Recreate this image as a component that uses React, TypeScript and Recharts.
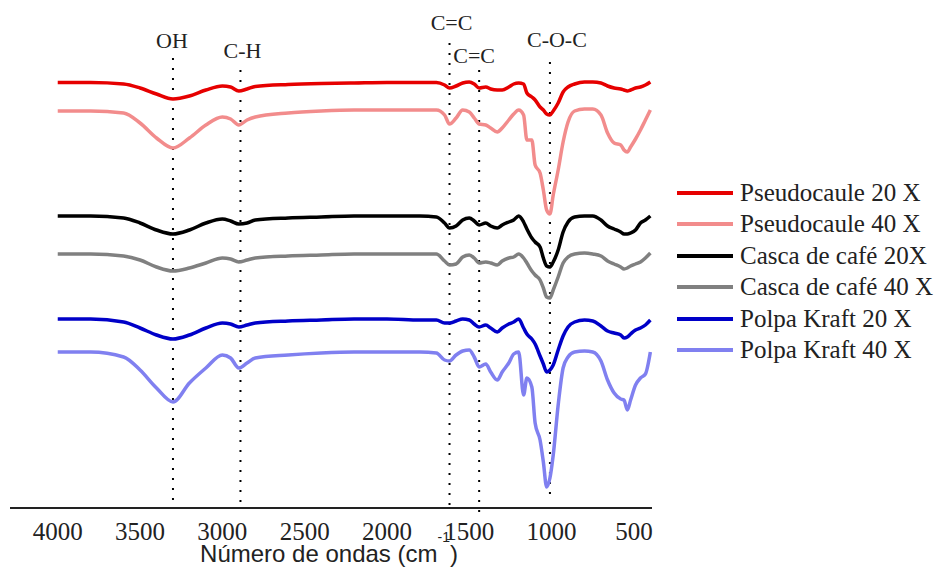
import { LineChart, Line, XAxis, YAxis, ReferenceLine } from "recharts";

// wavenumber grid (cm-1)
const WAVENUMBERS = [
  4000, 3800, 3600, 3500, 3400, 3300, 3200, 3100, 3000,
  2950, 2900, 2850, 2800, 2600, 2400, 2200, 2000, 1800,
  1700, 1650, 1620, 1580, 1540, 1500, 1470, 1440, 1400,
  1370, 1330, 1300, 1260, 1230, 1200, 1170, 1150, 1120,
  1100, 1070, 1050, 1030, 1010, 990, 960, 930, 900,
  860, 800, 750, 700, 660, 620, 580, 560, 540,
  520, 490, 460, 430, 400,
];

// transmittance (%, curves offset for display)
const PSEUDOCAULE_20X = [
  85.1, 85.1, 84.8, 84.0, 82.8, 81.8, 82.4, 83.6, 84.4,
  84.2, 83.4, 83.8, 84.3, 84.7, 84.9, 85.0, 85.1, 85.1,
  85.1, 84.6, 84.0, 84.4, 85.0, 85.2, 84.8, 84.0, 84.2,
  83.8, 83.6, 83.6, 84.2, 84.8, 85.0, 84.8, 83.0, 82.2,
  81.6, 80.2, 79.6, 78.8, 78.6, 79.4, 81.0, 83.2, 84.2,
  84.8, 85.2, 85.2, 85.0, 84.4, 84.0, 83.8, 83.6, 83.4,
  83.6, 84.0, 84.2, 84.6, 85.2,
];
const PSEUDOCAULE_40X = [
  79.4, 79.4, 79.0, 77.0, 74.0, 72.0, 74.0, 76.6, 78.2,
  77.8, 76.6, 77.6, 78.2, 79.0, 79.4, 79.6, 79.6, 79.6,
  79.6, 78.6, 76.8, 78.0, 79.6, 79.2, 78.0, 76.8, 76.6,
  76.0, 75.2, 76.0, 77.6, 78.8, 79.6, 78.6, 73.6, 73.6,
  68.6, 67.0, 63.6, 59.6, 58.8, 62.6, 67.6, 73.2, 77.2,
  79.4, 79.8, 79.8, 78.6, 75.0, 73.0, 72.6, 71.6, 71.2,
  72.2, 73.8, 75.6, 77.6, 79.6,
];
const CASCA_20X = [
  58.4, 58.4, 58.0, 57.0, 55.6, 54.8, 55.6, 57.0, 57.8,
  57.4, 56.8, 57.0, 57.6, 58.0, 58.2, 58.4, 58.4, 58.4,
  58.2, 57.0, 56.0, 56.4, 57.6, 58.0, 57.4, 56.6, 57.0,
  56.4, 56.0, 56.6, 57.2, 57.6, 58.4, 57.2, 55.8, 54.0,
  53.2, 52.2, 50.0, 48.4, 48.2, 49.2, 51.6, 55.2, 57.2,
  58.2, 58.4, 58.4, 57.6, 56.4, 55.8, 55.2, 54.8, 54.8,
  55.0, 55.6, 57.0, 57.6, 58.4,
];
const CASCA_40X = [
  50.8, 50.8, 50.4, 49.6, 48.2, 47.4, 48.0, 49.0, 50.0,
  49.8, 49.2, 49.6, 50.0, 50.4, 50.6, 50.8, 50.8, 50.8,
  50.8, 49.4, 48.6, 48.8, 50.2, 50.6, 50.0, 49.0, 49.2,
  49.0, 48.6, 49.4, 50.0, 50.2, 50.8, 50.0, 49.0, 47.4,
  46.6, 45.6, 44.0, 42.2, 42.0, 43.6, 46.2, 49.0, 50.2,
  50.8, 51.0, 50.8, 50.4, 49.4, 48.8, 48.2, 47.8, 48.0,
  48.4, 48.8, 49.2, 50.0, 51.0,
];
const POLPA_20X = [
  37.8, 37.8, 37.2, 36.0, 34.6, 33.8, 34.6, 36.0, 37.0,
  36.8, 36.2, 36.6, 37.0, 37.4, 37.6, 37.8, 37.8, 37.6,
  37.6, 37.0, 37.0, 37.4, 37.8, 37.6, 36.8, 36.2, 36.6,
  36.0, 35.2, 36.0, 36.8, 37.2, 37.8, 36.0, 34.8, 33.8,
  32.8, 30.4, 28.8, 27.2, 27.6, 28.6, 31.6, 34.4, 36.2,
  37.2, 37.6, 37.4, 36.4, 35.4, 35.0, 34.6, 34.0, 34.2,
  34.8, 35.6, 36.0, 36.6, 37.6,
];
const POLPA_40X = [
  31.2, 31.2, 30.2, 27.6, 24.0, 21.2, 25.0, 28.0, 30.6,
  30.0, 28.0, 29.0, 30.0, 30.6, 31.0, 31.2, 31.2, 31.2,
  31.0, 29.6, 29.4, 30.6, 31.4, 31.6, 30.2, 28.2, 28.8,
  27.2, 25.6, 27.2, 29.0, 30.8, 31.2, 22.6, 26.0, 24.2,
  17.0, 13.6, 9.2, 4.2, 6.0, 10.6, 20.6, 28.0, 30.2,
  31.2, 31.4, 31.2, 29.4, 25.6, 23.0, 21.8, 21.6, 19.6,
  21.6, 24.6, 26.0, 26.8, 31.2,
];

const X_TICKS = [4000, 3500, 3000, 2500, 2000, 1500, 1000, 500];

// band assignments: label, wavenumber, dotted guide from/to (transmittance)
const BAND_LABELS = ["OH", "C-H", "C=C", "C=C", "C-O-C"];
const BAND_WAVENUMBERS = [3300, 2890, 1620, 1440, 1010];
const BAND_TOPS = [90, 87.6, 93, 87.6, 89.2];
const BAND_BOTTOMS = [0, 0, 0.5, -1.8, 2];

const LABEL_OFFSETS = [
  { dx: -1, dy: -10 },
  { dx: 2, dy: -12 },
  { dx: 2, dy: -13 },
  { dx: -5, dy: -7 },
  { dx: 7, dy: -15 },
];

const SERIES = [
  { key: "p20", name: "Pseudocaule 20 X", color: "#e60000", values: PSEUDOCAULE_20X },
  { key: "p40", name: "Pseudocaule 40 X", color: "#f28c8c", values: PSEUDOCAULE_40X },
  { key: "c20", name: "Casca de café 20X", color: "#000000", values: CASCA_20X },
  { key: "c40", name: "Casca de café 40 X", color: "#808080", values: CASCA_40X },
  { key: "k20", name: "Polpa Kraft 20 X", color: "#0000c8", values: POLPA_20X },
  { key: "k40", name: "Polpa Kraft 40 X", color: "#8080f0", values: POLPA_40X },
];

const data = WAVENUMBERS.map((wn, i) => {
  const row: any = { wn };
  SERIES.forEach((s) => (row[s.key] = s.values[i]));
  return row;
});

const SERIF = "Liberation Serif";
const SANS = "Liberation Sans";

const AxisTick = ({ x, y, payload }: any) => (
  <text x={x} y={y + 32} textAnchor="middle" style={{ fontFamily: SERIF, fontSize: 25 }} fill="#222">
    {payload.value}
  </text>
);

const AxisTitle = ({ viewBox }: any) => (
  <text
    x={viewBox.x + viewBox.width / 2 - 2}
    y={viewBox.y + 54}
    textAnchor="middle"
    style={{ fontFamily: SANS, fontSize: 24 }}
    fill="#222"
  >
    Número de ondas (cm
    <tspan dy={-20} style={{ fontSize: 14 }}>-1</tspan>
    <tspan dy={20}>)</tspan>
  </text>
);

const LegendBox = () => (
  <div style={{ position: "absolute", left: 677, top: 177, fontFamily: SERIF, fontSize: 25, color: "#222" }}>
    {SERIES.map((s) => (
      <div key={s.key} style={{ display: "flex", alignItems: "center", height: 31.5, whiteSpace: "nowrap" }}>
        <span style={{ display: "inline-block", width: 56, height: 4, background: s.color, marginRight: 7 }} />
        <span>{s.name}</span>
      </div>
    ))}
  </div>
);

export default function App() {
  return (
    <div style={{ position: "absolute", left: 0, top: 0, width: 939, height: 574, background: "#fff" }}>
      <LineChart width={939} height={574} data={data} margin={{ top: 8, right: 287, bottom: 16, left: 10 }}>
        <XAxis
          dataKey="wn"
          type="number"
          domain={[390, 4290]}
          reversed
          allowDataOverflow
          ticks={X_TICKS}
          tick={<AxisTick />}
          tickLine={false}
          tickSize={0}
          tickMargin={0}
          height={50}
          axisLine={{ stroke: "#222", strokeWidth: 2 }}
          label={<AxisTitle />}
        />
        <YAxis hide domain={[0, 100]} allowDataOverflow />
        {BAND_LABELS.map((label, i) => (
          <ReferenceLine
            key={label + i}
            segment={[
              { x: BAND_WAVENUMBERS[i], y: BAND_TOPS[i] },
              { x: BAND_WAVENUMBERS[i], y: BAND_BOTTOMS[i] },
            ]}
            stroke="#000"
            strokeWidth={2}
            strokeDasharray="2 8"
            ifOverflow="visible"
            label={(props: any) => (
              <text
                x={props.viewBox.x + LABEL_OFFSETS[i].dx}
                y={props.viewBox.y + LABEL_OFFSETS[i].dy}
                textAnchor="middle"
                style={{ fontFamily: SERIF, fontSize: 22 }}
                fill="#222"
              >
                {label}
              </text>
            )}
          />
        ))}
        {SERIES.map((s) => (
          <Line
            key={s.key}
            dataKey={s.key}
            name={s.name}
            type="monotone"
            stroke={s.color}
            strokeWidth={3.5}
            dot={false}
            activeDot={false}
            isAnimationActive={false}
          />
        ))}
      </LineChart>
      <LegendBox />
    </div>
  );
}
